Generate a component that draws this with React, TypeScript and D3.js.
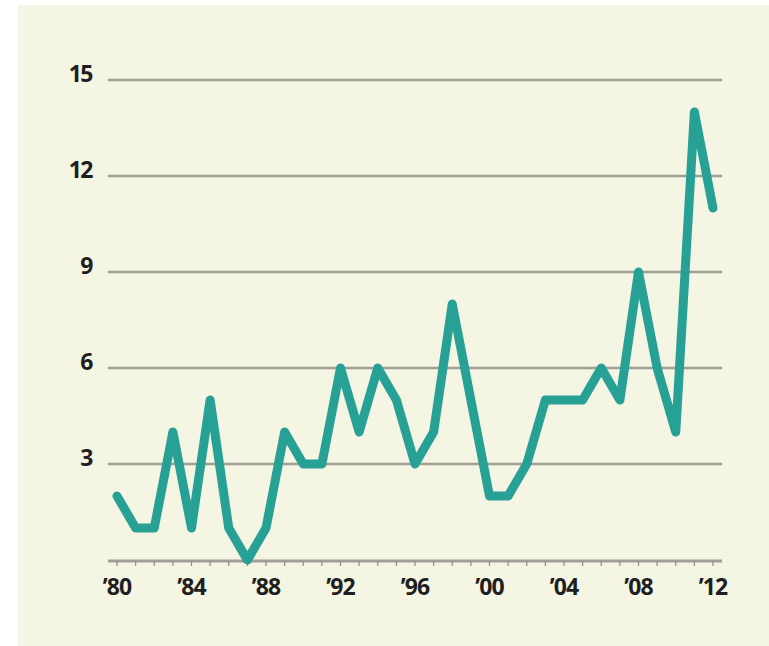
import React from "react";
import * as d3 from "d3";

const years: number[] = [1980,1981,1982,1983,1984,1985,1986,1987,1988,1989,1990,1991,1992,1993,1994,1995,1996,1997,1998,1999,2000,2001,2002,2003,2004,2005,2006,2007,2008,2009,2010,2011,2012];
const values: number[] = [2,1,1,4,1,5,1,0,1,4,3,3,6,4,6,5,3,4,8,5,2,2,3,5,5,5,6,5,9,6,4,14,11];
const yTicks: number[] = [3,6,9,12,15];
const xLabelYears: number[] = [1980,1984,1988,1992,1996,2000,2004,2008,2012];

const W = 769, H = 646;
const FONT = "'Open Sans', sans-serif";

export default function App() {
  const x = d3.scaleLinear().domain([1980, 2012]).range([117, 713]);
  const y = d3.scaleLinear().domain([0, 15]).range([560, 80]);
  const line = d3.line<number>().x((_, i) => x(years[i])).y(d => y(d));
  const fmt = (yr: number) => "\u2019" + String(yr).slice(2);
  return (
    <svg width={W} height={H} style={{ position: "absolute", left: 0, top: 0 }}>
      <rect x={0} y={0} width={W} height={H} fill="#ffffff" />
      <rect x={18} y={5} width={W - 18} height={H - 5} fill="#f5f5e4" />
      {yTicks.map(t => (
        <g key={t}>
          <line x1={108} x2={722} y1={y(t)} y2={y(t)} stroke="#a19e95" strokeWidth={2.5} />
          <text x={92} y={y(t) + 2} textAnchor="end" fontFamily={FONT} fontWeight={700} fontSize={23} letterSpacing={-1.5} fill="#1e1e1e">{t}</text>
        </g>
      ))}
      <line x1={108} x2={722} y1={y(0) + 1} y2={y(0) + 1} stroke="#a19e95" strokeWidth={3} />
      {years.map(yr => (
        <line key={yr} x1={x(yr)} x2={x(yr)} y1={y(0) + 2} y2={y(0) + 6} stroke="#8e8b82" strokeWidth={1.2} />
      ))}
      {xLabelYears.map(yr => (
        <text key={yr} x={x(yr)} y={595} textAnchor="middle" fontFamily={FONT} fontWeight={700} fontSize={23} letterSpacing={-1} fill="#1e1e1e">{fmt(yr)}</text>
      ))}
      <path d={line(values) || ""} fill="none" stroke="#27a096" strokeWidth={9} strokeLinejoin="round" strokeLinecap="round" />
    </svg>
  );
}
